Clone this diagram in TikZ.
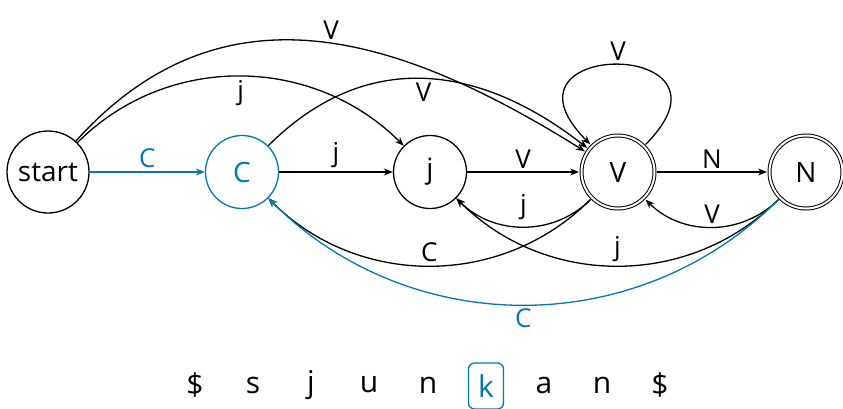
\documentclass[tikz,border=0pt]{standalone}
\usepackage{fontspec}
\setmainfont{Open Sans}
\usetikzlibrary{arrows.meta}
\definecolor{tapeblue}{RGB}{0,119,187}

\begin{document}
\begin{tikzpicture}[x=1pt,y=-1pt]
      \useasboundingbox (0,0) rectangle (843,408);
      \begin{scope}[every node/.style={circle,draw,line width=1.3pt,minimum size=73pt,inner sep=0pt,font=\fontsize{28}{32}\selectfont}]
        \node[minimum size=82pt] (start) at (48,172) {start};
        \node[color=tapeblue] (C) at (242,172) {C};
        \node (j) at (430,172) {j};
        \node[double,line width=1pt,double distance=2pt,outer sep=2.5pt] (V) at (618,172) {V};
        \node[double,line width=1pt,double distance=2pt,outer sep=2.5pt] (N) at (806,172) {N};
      \end{scope}
      \begin{scope}[every edge/.style={draw,line width=1.3pt,-{Stealth[length=9pt,width=7pt]}},
                    every node/.style={font=\fontsize{26}{30}\selectfont}]
        \path[color=tapeblue] (start) edge node[above] {C} (C);
        \path (start) edge[out=48,in=148,looseness=1.1] node[above,pos=0.53] {V} (V);
        \path (start) edge[out=45,in=135] node[below] {j} (j);
        \path (C) edge[out=45,in=142,looseness=1.1] node[below] {V} (V);
        \path (C) edge node[above] {j} (j);
        \path (j) edge node[above] {V} (V);
        \path (V) edge[out=45,in=135,looseness=7] node[above] {V} (V);
        \path (V) edge node[above] {N} (N);
        \path (V) edge[out=225,in=315] node[above,yshift=3pt] {j} (j);
        \path (V) edge[out=225,in=315] node[above] {C} (C);
        \path (N) edge[out=225,in=315] node[above] {V} (V);
        \path (N) edge[out=225,in=315] node[above] {j} (j);
        \path[color=tapeblue] (N) edge[out=225,in=315] node[below] {C} (C);
      \end{scope}
      \begin{scope}[every node/.style={font=\fontsize{30}{34}\selectfont}]
        \node (t1) at (195,385) {\$};
        \node (t2) at (253,385) {s};
        \node (t3) at (311,385) {j};
        \node (t4) at (369,385) {u};
        \node (t5) at (428,385) {n};
        \node[draw,color=tapeblue,line width=1.3pt,rounded corners=6pt,minimum width=35pt,minimum height=46pt,inner sep=0pt] (t6) at (486,386) {k};
        \node (t7) at (544,385) {a};
        \node (t8) at (602,385) {n};
        \node (t9) at (660,385) {\$};
      \end{scope}
    \end{tikzpicture}
\end{document}
